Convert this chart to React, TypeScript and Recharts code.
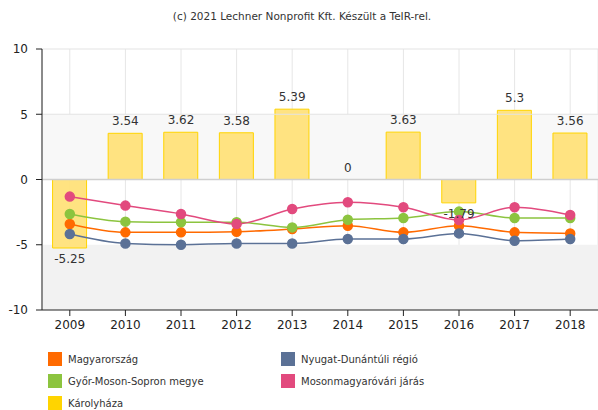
import { ComposedChart, Bar, Line, XAxis, YAxis, CartesianGrid, ReferenceArea, ReferenceLine, LabelList } from 'recharts'

const years = ['2009', '2010', '2011', '2012', '2013', '2014', '2015', '2016', '2017', '2018']
const karolyhaza = [-5.25, 3.54, 3.62, 3.58, 5.39, 0, 3.63, -1.79, 5.3, 3.56]
const magyarorszag = [-3.41, -4.05, -4.05, -4.0, -3.8, -3.54, -4.05, -3.54, -4.05, -4.13]
const nyugatDunantul = [-4.18, -4.9, -5.0, -4.9, -4.9, -4.56, -4.56, -4.13, -4.69, -4.56]
const gyorMosonSopron = [-2.64, -3.23, -3.28, -3.28, -3.67, -3.08, -2.95, -2.46, -2.95, -2.95]
const mosonmagyarovar = [-1.31, -2.0, -2.64, -3.41, -2.26, -1.74, -2.13, -3.1, -2.13, -2.72]
const yTicks = [-10, -5, 0, 5, 10]

const COLORS = {
  magyar: '#ff6a00',
  nyugat: '#5b7196',
  gyor: '#8cc43f',
  moson: '#e24a7e',
  karoly: '#ffd400',
}

const data = years.map((year, i) => ({
  year,
  karoly: karolyhaza[i],
  magyar: magyarorszag[i],
  nyugat: nyugatDunantul[i],
  gyor: gyorMosonSopron[i],
  moson: mosonmagyarovar[i],
}))

const legendItems = [
  { name: 'Magyarország', color: COLORS.magyar, x: 48, y: 352 },
  { name: 'Nyugat-Dunántúli régió', color: COLORS.nyugat, x: 281, y: 352 },
  { name: 'Győr-Moson-Sopron megye', color: COLORS.gyor, x: 48, y: 374 },
  { name: 'Mosonmagyaróvári járás', color: COLORS.moson, x: 281, y: 374 },
  { name: 'Károlyháza', color: COLORS.karoly, x: 48, y: 396 },
]

const font = 'Tahoma, "DejaVu Sans", Verdana, sans-serif'

// value labels sit at the bar end: above for positive/zero, below for negative
const BarLabel = (props: any) => {
  const { x, y, value } = props
  const ty = value < 0 ? y + 15 : y - 8
  return (
    <text x={x} y={ty} textAnchor="middle" fontSize={12} fill="#333" fontFamily={font}>
      {value}
    </text>
  )
}

export default function App() {
  return (
    <div style={{ position: 'fixed', left: 0, top: 0, width: 598, height: 410, background: '#fff', fontFamily: font, overflow: 'hidden' }}>
      <div style={{ position: 'absolute', left: 0, width: 604, top: 10, textAlign: 'center', fontSize: 10.5, color: '#333' }}>
        (c) 2021 Lechner Nonprofit Kft. Készült a TeIR-rel.
      </div>
      <ComposedChart
        width={598}
        height={340}
        data={data}
        margin={{ top: 49, right: 0, left: 0, bottom: 0 }}
        barCategoryGap="19%"
      >
        <ReferenceArea y1={-10} y2={-5} fill="#f2f2f2" fillOpacity={1} stroke="none" />
        <ReferenceArea y1={0} y2={5} fill="#f8f8f8" fillOpacity={1} stroke="none" />
        <CartesianGrid stroke="#e6e6e6" horizontal={false} />
        <ReferenceLine y={10} stroke="#e3e3e3" />
        <ReferenceLine y={5} stroke="#e3e3e3" />
        <ReferenceLine y={0} stroke="#cfcfcf" strokeWidth={1.5} />
        <XAxis
          dataKey="year"
          height={30}
          axisLine={{ stroke: '#222' }}
          tickLine={{ stroke: '#222' }}
          tickSize={6}
          tick={{ fontSize: 12, fill: '#222', fontFamily: font }}
          tickMargin={4}
        />
        <YAxis
          width={42}
          domain={[-10, 10]}
          ticks={yTicks}
          axisLine={{ stroke: '#222' }}
          tickLine={{ stroke: '#222' }}
          tickSize={6}
          tick={{ fontSize: 12, fill: '#222', fontFamily: font }}
          tickMargin={8}
          interval={0}
        />
        <Bar dataKey="karoly" fill="#ffe27a" fillOpacity={0.95} stroke={COLORS.karoly} strokeWidth={1} isAnimationActive={false} />
        <Line type="monotone" dataKey="magyar" stroke={COLORS.magyar} strokeWidth={1.5} dot={{ r: 4.5, fill: COLORS.magyar, stroke: COLORS.magyar }} isAnimationActive={false} />
        <Line type="monotone" dataKey="nyugat" stroke={COLORS.nyugat} strokeWidth={1.5} dot={{ r: 4.5, fill: COLORS.nyugat, stroke: COLORS.nyugat }} isAnimationActive={false} />
        <Line type="monotone" dataKey="gyor" stroke={COLORS.gyor} strokeWidth={1.5} dot={{ r: 4.5, fill: COLORS.gyor, stroke: COLORS.gyor }} isAnimationActive={false} />
        <Line type="monotone" dataKey="moson" stroke={COLORS.moson} strokeWidth={1.5} dot={{ r: 4.5, fill: COLORS.moson, stroke: COLORS.moson }} isAnimationActive={false} />
        {/* invisible carrier for the bar value labels (bars of height 0 get no label otherwise) */}
        <Line dataKey="karoly" stroke="none" dot={false} activeDot={false} legendType="none" isAnimationActive={false}>
          <LabelList dataKey="karoly" content={BarLabel} />
        </Line>
      </ComposedChart>
      {legendItems.map((item) => (
        <div key={item.name} style={{ position: 'absolute', left: item.x, top: item.y, display: 'flex', alignItems: 'center', fontSize: 10, color: '#333' }}>
          <div style={{ width: 14, height: 14, background: item.color, marginRight: 6 }} />
          <span>{item.name}</span>
        </div>
      ))}
    </div>
  )
}
